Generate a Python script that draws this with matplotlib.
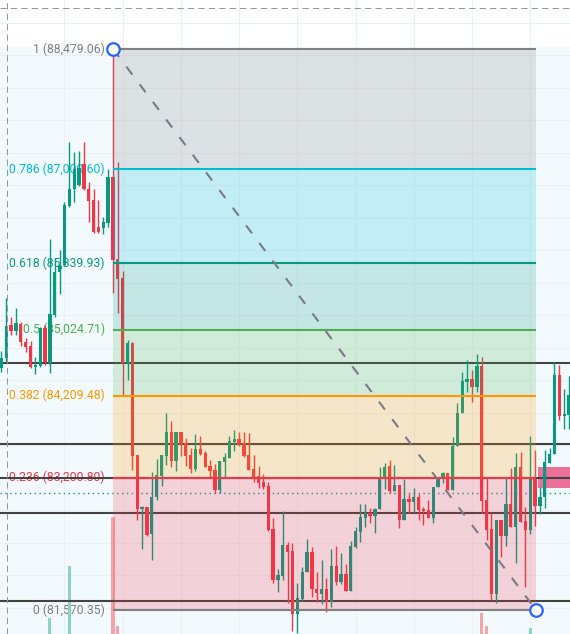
import numpy as np
import matplotlib.pyplot as plt
from matplotlib.patches import Rectangle
from matplotlib.transforms import Affine2D, blended_transform_factory

# OHLC per bar (BTC/USD)
opens = [84551, 84674, 85080, 85006, 85092, 84871, 84822, 84563, 84575, 85043,
         84612, 85203, 85733, 85819, 86546, 86755, 86804, 87063, 86755, 86620,
         86287, 86275, 86336, 86903, 85893, 85659, 84612, 84859, 83479, 82814,
         82839, 82506, 82962, 83221, 83467, 83762, 83405, 83762, 83627, 83479,
         83307, 83553, 83504, 83344, 83294, 83048, 83393, 83442, 83639, 83676,
         83627, 83479, 83307, 83221, 83147, 83097, 82568, 81940, 81989, 82371,
         82297, 81521, 81706, 82038, 82285, 81829, 81767, 81829, 81669, 82112,
         81915, 82014, 81804, 82346, 82531, 82703, 82765, 82728, 82814, 83184,
         83344, 83036, 83110, 82679, 82937, 82900, 82962, 82814, 82802, 82703,
         83085, 83208, 83258, 83048, 83590, 83996, 84378, 84415, 84317, 84575,
         82925, 82568, 81767, 82679, 82482, 82876, 82592, 83331, 82666, 82556,
         83184, 82851, 82962, 83381, 83491, 84464, 83960, 83972]
highs = [84760, 85413, 85179, 85290, 85117, 84920, 84883, 84686, 85056, 85080,
         86139, 85905, 86004, 86595, 87334, 87211, 87223, 87334, 86841, 86755,
         86620, 86410, 87001, 88479.06, 87087, 85745, 84895, 84871, 83479, 82851,
         82839, 83270, 83430, 83479, 83996, 83898, 83762, 83762, 83689, 83565,
         83738, 83713, 83528, 83418, 83368, 83405, 83504, 83713, 83787, 83762,
         83762, 83750, 83479, 83344, 83245, 83147, 82703, 82075, 82790, 82408,
         82396, 81903, 82100, 82445, 82346, 82038, 82186, 81964, 82322, 82358,
         82272, 82137, 82420, 82592, 82876, 82876, 82826, 82826, 83331, 83381,
         83418, 83356, 83110, 83184, 82999, 83073, 82999, 82839, 82925, 83085,
         83184, 83270, 83258, 83701, 84120, 84501, 84649, 84526, 84723, 84686,
         83196, 82765, 82679, 82679, 83196, 83319, 83504, 83516, 82839, 83713,
         83541, 83085, 83541, 83565, 84624, 84588, 84292, 84452]
lows = [84501, 84624, 84957, 84957, 84822, 84748, 84551, 84477, 84563, 84588,
        84489, 85179, 85462, 85807, 86533, 86595, 86792, 86743, 86349, 86213,
        86213, 86201, 86287, 85474, 85228, 84218, 84403, 83294, 82679, 82322,
        82482, 82186, 82925, 83097, 83356, 83331, 83282, 83467, 83344, 83258,
        83282, 83479, 83331, 83196, 83011, 83011, 83196, 83442, 83528, 83590,
        83455, 83294, 83147, 83073, 83060, 82543, 81903, 81792, 81940, 81657,
        81312, 81287, 81681, 82038, 81730, 81669, 81644, 81546, 81607, 81878,
        81891, 81804, 81804, 82334, 82408, 82592, 82642, 82519, 82814, 83060,
        83011, 83036, 82580, 82679, 82765, 82777, 82679, 82617, 82703, 82642,
        83085, 83134, 83048, 83048, 83590, 83996, 84255, 84132, 84255, 82765,
        82432, 81694, 81657, 82223, 82359, 82592, 82149, 82654, 81854, 82506,
        82605, 82753, 82826, 83381, 83491, 83910, 83799, 83799]
closes = [84674, 85068, 85006, 85105, 84871, 84809, 84563, 84588, 85043, 84624,
          85216, 85733, 85819, 86558, 86755, 87001, 87014, 86755, 86607, 86225,
          86225, 86349, 86903, 85881, 85647, 84612, 84859, 83467, 82814, 82839,
          82494, 82962, 83233, 83479, 83762, 83405, 83762, 83615, 83467, 83307,
          83553, 83491, 83331, 83282, 83048, 83405, 83455, 83652, 83676, 83615,
          83467, 83294, 83196, 83134, 83085, 82556, 81940, 82001, 82371, 82285,
          81521, 81718, 82038, 82285, 81829, 81780, 81829, 81669, 82112, 81915,
          82014, 81804, 82358, 82543, 82716, 82765, 82728, 82814, 83184, 83331,
          83036, 83110, 82679, 82937, 82900, 82962, 82802, 82790, 82703, 83085,
          83184, 83258, 83048, 83590, 83996, 84390, 84415, 84317, 84575, 82913,
          82556, 81767, 82679, 82482, 82876, 82592, 83331, 82654, 82556, 83184,
          82851, 82962, 83393, 83491, 84464, 83960, 83984, 84218]
# only the heavy bars reach up into view
volumes = [150, 180, 120, 110, 130, 100, 140, 90, 160, 150,
           420, 230, 170, 210, 940, 250, 180, 200, 170, 190,
           120, 100, 220, 1430, 340, 240, 180, 250, 230, 150,
           140, 200, 150, 130, 170, 140, 120, 110, 100, 120,
           110, 90, 100, 110, 140, 130, 110, 120, 100, 90,
           100, 120, 110, 90, 80, 160, 230, 150, 180, 170,
           250, 210, 160, 140, 150, 110, 120, 130, 170, 120,
           100, 110, 160, 120, 130, 90, 80, 100, 170, 120,
           130, 90, 150, 130, 90, 80, 100, 90, 80, 120,
           90, 80, 100, 180, 210, 200, 140, 130, 160, 470,
           340, 250, 240, 180, 170, 150, 210, 190, 230, 320,
           200, 140, 170, 110, 230, 180, 120, 130]

# Fibonacci retracement (prices as labelled on the chart)
fib_levels = [1, 0.786, 0.618, 0.5, 0.382, 0.236, 0]
fib_prices = [88479.06, 87000.60, 85839.93, 85024.71, 84209.48, 83200.80, 81570.35]
fib_colors = ['#808080', '#00bcd4', '#089981', '#4caf50', '#ff9800', '#f23645', '#808080']
fib_start_bar = 23
fib_end_bar = 110.2

# user drawn horizontal lines, last price line, highlighted zone
hline_prices = [84615, 83615, 83195, 82770, 81680]
last_price = 83011
zone_low, zone_high = 83073, 83331
zone_start_bar = 110.6

# crosshair
cross_bar = 1.15
cross_price = 88984

UP = '#089981'
DOWN = '#f23645'

n = len(opens)
x = np.arange(n)
o = np.array(opens); c = np.array(closes)
h = np.array(highs); l = np.array(lows)
up = c >= o
colors = np.where(up, UP, DOWN)

fig = plt.figure(figsize=(5.7, 6.34), dpi=100)
ax = fig.add_axes([0, 0, 1, 1])
ax.set_xlim(-0.29, 117.2)
ax.set_ylim(81274.8, 89082.5)
ax.axis('off')

# pale chart background below the top band
ax.axhspan(ax.get_ylim()[0], 88504, color='#f3fafd', zorder=0, lw=0)

# grid
for gy in np.arange(81600, 89000, 400):
    ax.axhline(gy, color='#eceff4', lw=0.8, zorder=0.5)
for gx in range(13, 118, 12):
    ax.axvline(gx, color='#eceff4', lw=0.8, zorder=0.5)

# volume, on its own scale with the base below the visible area
vol_tf = Affine2D().scale(1, 1 / 6340).translate(0, -260 / 6340) + ax.transAxes
vol_trans = blended_transform_factory(ax.transData, vol_tf)
vol_colors = np.where(up, '#8ad2c6', '#f5a5a8')
for xi, v, vc in zip(x, volumes, vol_colors):
    ax.add_patch(Rectangle((xi - 0.32, 0), 0.64, v, transform=vol_trans,
                           facecolor=vc, edgecolor='none', zorder=1.2))

# pink zone on the right
ax.add_patch(Rectangle((zone_start_bar, zone_low), 10, zone_high - zone_low,
                       facecolor='#ec7098', edgecolor='none', zorder=1.3))

# horizontal lines and last price
for hp in hline_prices:
    ax.axhline(hp, color='#434343', lw=1.5, zorder=1.5)
ax.axhline(last_price, color=UP, lw=1.0, ls=(0, (1, 2.5)), zorder=1.5)

# candles
ax.vlines(x, l, h, colors=colors, lw=1.0, zorder=2)
body = np.maximum(np.abs(c - o), 12)
ax.bar(x, body, bottom=np.minimum(o, c), width=0.68, color=colors,
       edgecolor='none', zorder=2.1)

# fibonacci fills, lines and labels
for i in range(len(fib_levels) - 1):
    ax.fill_between([fib_start_bar, fib_end_bar], fib_prices[i + 1], fib_prices[i],
                    color=fib_colors[i], alpha=0.2, lw=0, zorder=3)
for lv, fp, fc in zip(fib_levels, fib_prices, fib_colors):
    ax.plot([fib_start_bar, fib_end_bar], [fp, fp], color=fc, lw=1.5,
            solid_capstyle='butt', zorder=3.5)
    ax.annotate(f'{lv:g} ({fp:,.2f})', xy=(fib_start_bar, fp), xytext=(-8, 0),
                textcoords='offset pixels', ha='right', va='center',
                color=fc, fontsize=8.8, family='Roboto', zorder=1)

# trend line between the two anchors
ax.plot([fib_start_bar, fib_end_bar], [fib_prices[0], fib_prices[-1]], color='#787b86',
        lw=1.5, ls=(0, (4.8, 5.8)), zorder=4)
ax.plot([fib_start_bar, fib_end_bar], [fib_prices[0], fib_prices[-1]], ls='none',
        marker='o', ms=9, mfc='white', mec='#2962ff', mew=1.6, zorder=5)

# crosshair
ax.axvline(cross_bar, color='#9598a1', lw=0.75, ls=(0, (6, 4)), zorder=6)
ax.axhline(cross_price, color='#9598a1', lw=0.75, ls=(0, (6, 4)), zorder=6)

fig.savefig('out.png', dpi=100, facecolor='white')
